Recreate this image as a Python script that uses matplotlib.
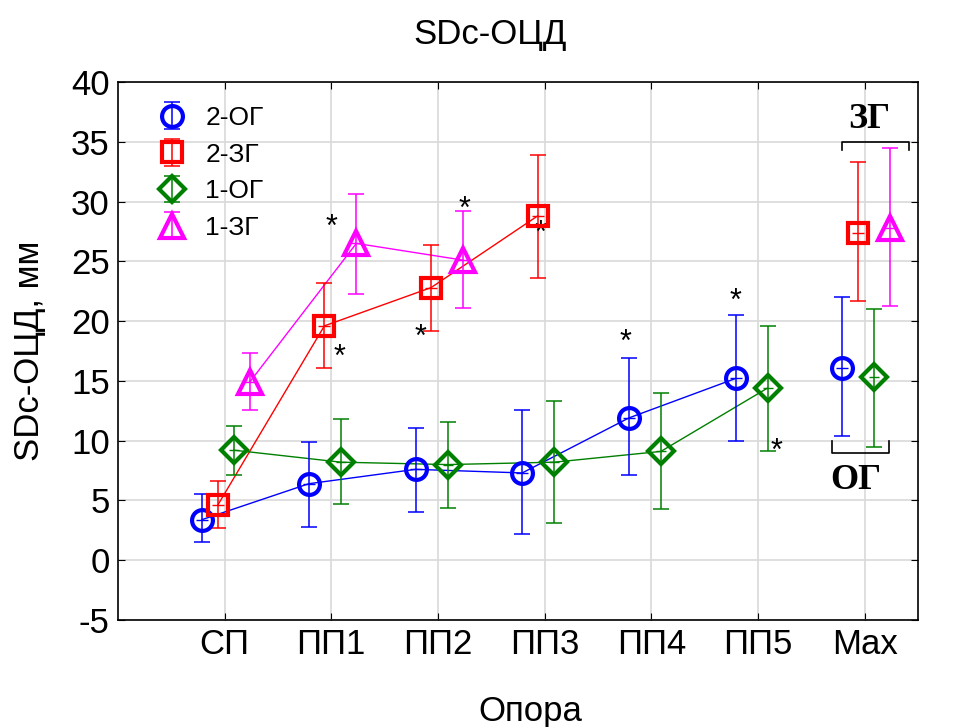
#!/usr/bin/env python
# SDc-ОЦД by support phase, 4 groups with error bars
import matplotlib
matplotlib.use('Agg')
import matplotlib.pyplot as plt

categories = ['СП', 'ПП1', 'ПП2', 'ПП3', 'ПП4', 'ПП5', 'Max']

# mean, lower, upper (None = not measured)
og2_mean = [3.4, 6.4, 7.6, 7.3, 11.9, 15.2, 16.1]
og2_low = [1.5, 2.8, 4.0, 2.2, 7.1, 10.0, 10.4]
og2_high = [5.5, 9.9, 11.1, 12.6, 16.9, 20.5, 22.0]

zg2_mean = [4.6, 19.6, 22.8, 28.8, None, None, 27.4]
zg2_low = [2.7, 16.1, 19.2, 23.6, None, None, 21.7]
zg2_high = [6.6, 23.2, 26.4, 33.9, None, None, 33.3]

og1_mean = [9.2, 8.2, 8.0, 8.2, 9.1, 14.4, 15.3]
og1_low = [7.1, 4.7, 4.4, 3.1, 4.3, 9.1, 9.5]
og1_high = [11.2, 11.8, 11.6, 13.3, 14.0, 19.6, 21.0]

zg1_mean = [14.9, 26.5, 25.1, None, None, None, 27.8]
zg1_low = [12.6, 22.3, 21.1, None, None, None, 21.3]
zg1_high = [17.3, 30.6, 29.2, None, None, None, 34.5]

# significance stars (x in category units, y in mm)
star_x = [2.0, 2.08, 2.84, 3.25, 3.96, 4.76, 5.79, 6.17]
star_y = [27.8, 16.9, 18.6, 29.3, 27.3, 18.2, 21.6, 9.1]

series = [
  ('2-ОГ', og2_mean, og2_low, og2_high, 'blue', 'o', -0.21, 15),
  ('2-ЗГ', zg2_mean, zg2_low, zg2_high, 'red', 's', -0.065, 15),
  ('1-ОГ', og1_mean, og1_low, og1_high, 'green', 'D', 0.09, 13),
  ('1-ЗГ', zg1_mean, zg1_low, zg1_high, 'magenta', '^', 0.235, 17),
]

plt.rcParams['font.family'] = ['Liberation Sans', 'DejaVu Sans']
plt.rcParams['axes.unicode_minus'] = False

fig = plt.figure(figsize=(9.63, 7.27), dpi=100)
ax = fig.add_axes([0.1225, 0.1472, 0.8307, 0.740])

handles = []
for name, mean, low, high, col, mk, off, ms in series:
  idx = [i for i in range(len(categories)) if mean[i] is not None]
  xs = [i + 1 + off for i in idx]
  ys = [mean[i] for i in idx]
  lo = [mean[i] - low[i] for i in idx]
  hi = [high[i] - mean[i] for i in idx]
  # connecting line for the phases only (Max stands alone)
  line_x = [x for x, i in zip(xs, idx) if i < 6]
  line_y = [y for y, i in zip(ys, idx) if i < 6]
  ax.plot(line_x, line_y, '-', color=col, lw=1.0, zorder=2)
  eb = ax.errorbar(xs, ys, yerr=[lo, hi], fmt='none', ecolor=col,
                   elinewidth=1.1, capsize=6, capthick=1.1, zorder=3)
  mline, = ax.plot(xs, ys, mk, color=col, markersize=ms, markerfacecolor='none',
                   markeredgecolor=col, markeredgewidth=3, zorder=4)
  ax.plot(xs, ys, '_', color=col, markersize=ms * 0.6, mew=1, zorder=4)
  handles.append((eb, mline))

for sx, sy in zip(star_x, star_y):
  ax.text(sx, sy, '*', fontsize=22, ha='center', va='center', color='black')

# brackets for the Max group
ax.plot([6.79, 6.79, 7.42, 7.42], [34.3, 35.0, 35.0, 34.3], color='black', lw=1.2)
ax.plot([6.69, 6.69, 7.23, 7.23], [9.95, 8.95, 8.95, 9.95], color='black', lw=1.2)
ax.text(7.04, 36.9, 'ЗГ', fontsize=26, fontweight='bold', family='Liberation Serif',
        ha='center', va='center')
ax.text(6.92, 6.7, 'ОГ', fontsize=26, fontweight='bold', family='Liberation Serif',
        ha='center', va='center')

ax.set_xlim(0, 7.5)
ax.set_ylim(-5, 40)
ax.set_xticks(range(1, 8))
ax.set_xticklabels(categories)
ax.set_yticks(range(-5, 41, 5))
ax.tick_params(axis='both', direction='in', labelsize=25, length=5,
               top=True, right=True, pad=6)
ax.grid(True, color='#d9d9d9', lw=1.2)
ax.set_axisbelow(True)
for s in ax.spines.values():
  s.set_color('black')
  s.set_linewidth(1.2)

ax.set_ylabel('SDc-ОЦД, мм', fontsize=25, labelpad=18)
fig.text(0.551, 0.021, 'Опора', fontsize=25, ha='center', va='center')
fig.text(0.509, 0.952, 'SDc-ОЦД', fontsize=25, ha='center', va='center')

ax.legend(handles=handles, labels=[s[0] for s in series], loc='upper left',
          bbox_to_anchor=(0.02, 0.985), frameon=False, fontsize=19,
          handlelength=1.7, labelspacing=0.48, handletextpad=0.4,
          borderaxespad=0.2)

plt.savefig('out.png', dpi=100)
